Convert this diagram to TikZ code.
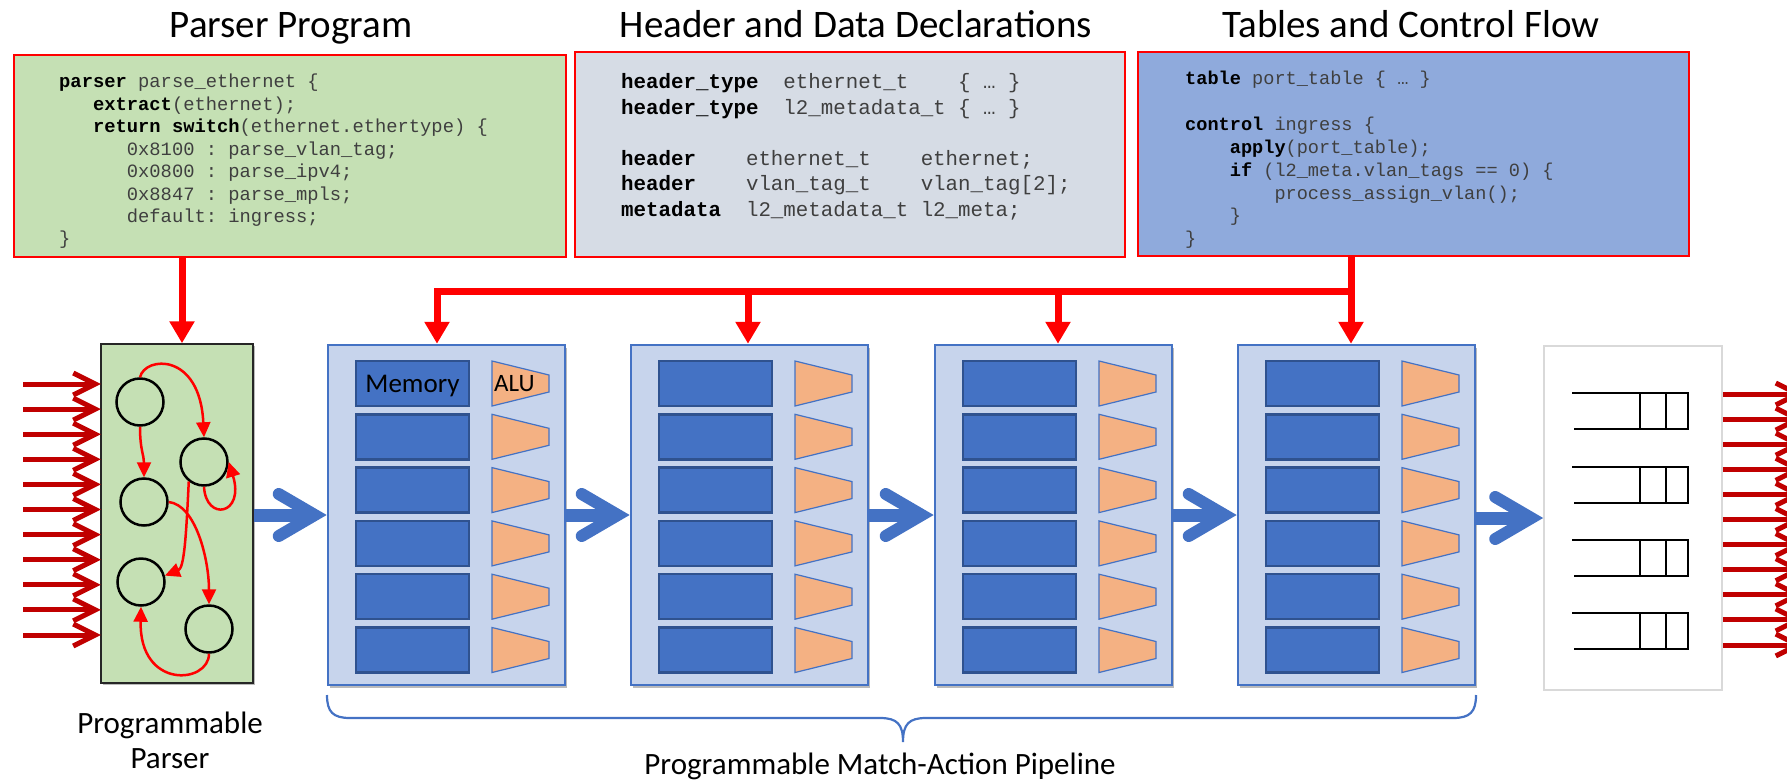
\documentclass[tikz,border=0pt]{standalone}
\usepackage{fontspec}
\setmainfont{Carlito}
\newfontfamily\monofont{Liberation Mono}
\usetikzlibrary{arrows.meta,calc,shadows}

\definecolor{codegreen}{HTML}{C5E0B4}
\definecolor{codegray}{HTML}{D6DCE5}
\definecolor{codeblue}{HTML}{8FAADC}
\definecolor{stagefill}{HTML}{C7D4EC}
\definecolor{accent}{HTML}{4472C4}
\definecolor{memedge}{HTML}{2F528F}
\definecolor{alufill}{HTML}{F4B183}
\definecolor{darkred}{HTML}{C00000}
\definecolor{brightred}{HTML}{FF0000}
\definecolor{txtgray}{HTML}{3F3F3F}
\definecolor{outedge}{HTML}{D9D9D9}

% code fonts for the three listings
\newcommand\cdP{\monofont\fontsize{18.8}{22}\selectfont\frenchspacing}
\newcommand\cdH{\monofont\fontsize{20.8}{25}\selectfont\frenchspacing}
\newcommand\cdT{\monofont\fontsize{18.6}{22}\selectfont\frenchspacing}
\newcommand\kw[1]{{\bfseries\color{black}#1}}

\tikzset{
  ttl/.style={font=\fontsize{39}{47}\selectfont, anchor=base, inner sep=0},
  lab/.style={font=\fontsize{31}{35}\selectfont, inner sep=0},
  codebox/.style={draw=brightred, line width=1.5pt, inner sep=0},
  code/.style={anchor=base west, inner sep=0, text=txtgray},
  pstate/.style={circle, draw=black, line width=2.5pt, minimum size=47pt, inner sep=0},
  sarrow/.style={draw=brightred, line width=2.5pt, -{Triangle[length=15pt,width=14pt]}},
  stage/.style={draw=accent, fill=stagefill, line width=2.5pt, minimum width=237pt, minimum height=340pt, inner sep=0,
    drop shadow={shadow xshift=1.5pt, shadow yshift=-2.5pt, fill=black!45, opacity=0.6}},
  mem/.style={draw=memedge, fill=accent, line width=2.5pt, minimum width=113pt, minimum height=45pt, inner sep=0},
  alu/.style={draw=accent, fill=alufill, line width=1.2pt},
  queue/.style={draw=black, line width=2.2pt},
  redio/.style={draw=darkred, line width=5pt},
  bshaft/.style={draw=accent, line width=13pt},
  bhead/.style={draw=accent, line width=12pt, line cap=round, line join=miter},
  bus/.style={draw=brightred, line width=7pt, line join=miter},
  busarrow/.style={bus, -{Triangle[length=22pt,width=24pt]}},
}

\begin{document}
\begin{tikzpicture}[x=1pt, y=-1pt]
\useasboundingbox (0,0) rectangle (1787,781);

% ---------- titles ----------
\node[ttl] (tp) at (291,38) {Parser Program};
\node[ttl] (th) at (856,38) {Header and Data Declarations};
\node[ttl] (tt) at (1411,38) {Tables and Control Flow};

% ---------- program boxes ----------
\node[codebox, fill=codegreen, minimum width=552pt, minimum height=202pt] (pcode) at (290,156) {};
\node[codebox, fill=codegray,  minimum width=550pt, minimum height=205pt] (hcode) at (850,154.5) {};
\node[codebox, fill=codeblue,  minimum width=551pt, minimum height=204pt] (tcode) at (1413.5,154) {};

% parser listing
\node[code, font=\cdP] (p1) at (59,88)    {\kw{parser} parse\_ethernet \{};
\node[code, font=\cdP] (p2) at (59,110.4) {~~~\kw{extract}(ethernet);};
\node[code, font=\cdP] (p3) at (59,132.8) {~~~\kw{return} \kw{switch}(ethernet.ethertype) \{};
\node[code, font=\cdP] (p4) at (59,155.2) {~~~~~~0x8100 : parse\_vlan\_tag;};
\node[code, font=\cdP] (p5) at (59,177.6) {~~~~~~0x0800 : parse\_ipv4;};
\node[code, font=\cdP] (p6) at (59,200)   {~~~~~~0x8847 : parse\_mpls;};
\node[code, font=\cdP] (p7) at (59,222.4) {~~~~~~default: ingress;};
\node[code, font=\cdP] (p8) at (59,244.8) {\}};

% header listing
\node[code, font=\cdH] (h1) at (621,88.5) {\kw{header\_type}~~ethernet\_t~~~~\{ … \}};
\node[code, font=\cdH] (h2) at (621,114)  {\kw{header\_type}~~l2\_metadata\_t \{ … \}};
\node[code, font=\cdH] (h3) at (621,165)  {\kw{header}~~~~ethernet\_t~~~~ethernet;};
\node[code, font=\cdH] (h4) at (621,190.5){\kw{header}~~~~vlan\_tag\_t~~~~vlan\_tag[2];};
\node[code, font=\cdH] (h5) at (621,216)  {\kw{metadata}~~l2\_metadata\_t l2\_meta;};

% tables and control listing
\node[code, font=\cdT] (t1) at (1185,85)    {\kw{table} port\_table \{ … \}};
\node[code, font=\cdT] (t2) at (1185,131)   {\kw{control} ingress \{};
\node[code, font=\cdT] (t3) at (1185,153.7) {~~~~\kw{apply}(port\_table);};
\node[code, font=\cdT] (t4) at (1185,176.4) {~~~~\kw{if} (l2\_meta.vlan\_tags == 0) \{};
\node[code, font=\cdT] (t5) at (1185,199)   {~~~~~~~~process\_assign\_vlan();};
\node[code, font=\cdT] (t6) at (1185,221.8) {~~~~\}};
\node[code, font=\cdT] (t7) at (1185,244.5) {\}};

% ---------- programmable parser ----------
\node[draw=black!85, fill=codegreen, line width=1.5pt, minimum width=152pt, minimum height=339pt, inner sep=0,
  drop shadow={shadow xshift=1.5pt, shadow yshift=-2pt, fill=black!45, opacity=0.6}] (parser) at (177,513.5) {};

\node[pstate] (c1) at (140,402) {};
\node[pstate] (c2) at (204,462) {};
\node[pstate] (c3) at (144,502) {};
\node[pstate] (c4) at (141,582) {};
\node[pstate] (c5) at (209,629) {};

\draw[sarrow] (c1.south) .. controls (140,450) and (144,455) .. (c3.north);
\draw[sarrow] (c1.north) .. controls (145,356) and (200,352) .. (c2.north);
\draw[sarrow] (c2.south) .. controls (206,522) and (245,515) .. (c2.east);
\draw[sarrow] (c2.232) .. controls (186,540) and (184,568) .. (c4.15);
\draw[sarrow] (c3.east) .. controls (196,505) and (209,560) .. (c5.north);
\draw[sarrow] (c5.south) .. controls (209,684) and (139,690) .. (c4.south);

% incoming packets
\foreach \k in {0,...,10} {
  \pgfmathsetmacro\yy{384+25.1*\k}
  \coordinate (ip) at (parser.west |- 0,\yy);
  \draw[redio] (23,\yy) -- ($(ip)+(-5,0)$);
  \draw[redio] ($(ip)+(-27,-11)$) -- ($(ip)+(-5,0)$) -- ($(ip)+(-27,11)$);
}

% ---------- match-action stages ----------
\foreach \i/\L in {1/328, 2/631, 3/935, 4/1238} {
  \node[stage] (s\i) at (\L+118.5,515) {};
  \foreach \r in {1,...,6} {
    \pgfmathsetmacro\T{361+(\r-1)*53.3}
    \node[mem] (m\i\r) at (\L+84.5,\T+22.5) {};
    \draw[alu] (\L+164,\T) -- (\L+221,\T+14) -- (\L+221,\T+31) -- (\L+164,\T+45) -- cycle;
  }
}
\node[font=\fontsize{27}{32}\selectfont, anchor=base, inner sep=0] (memtxt) at ($(m11.center)+(0,8.5)$) {Memory};
\node[font=\fontsize{25}{30}\selectfont, anchor=base west, inner sep=0] (alutxt) at (494,391) {ALU};

% ---------- output queues ----------
\node[draw=outedge, fill=white, line width=1.5pt, minimum width=178pt, minimum height=344pt, inner sep=0] (outbox) at (1633,518) {};
\foreach \q in {393,467,540,613} {
  \draw[queue] (1572,\q) -- (1688,\q) -- (1688,\q+36) -- (1574,\q+36);
  \draw[queue] (1640,\q) -- (1640,\q+36);
  \draw[queue] (1666,\q) -- (1666,\q+36);
}

% outgoing packets
\foreach \k in {0,...,10} {
  \pgfmathsetmacro\yy{394+25.1*\k}
  \coordinate (op) at (outbox.east |- 0,\yy);
  \draw[redio] (op) -- ($(op)+(75,0)$);
  \draw[redio] ($(op)+(53,-11)$) -- ($(op)+(75,0)$) -- ($(op)+(53,11)$);
}

% ---------- packet flow between blocks ----------
\foreach \a/\b in {parser/s1, s1/s2, s2/s3, s3/s4, s4/outbox} {
  \draw[bshaft] (\a.east |- \b.west) -- ($(\b.west)+(-12,0)$);
  \draw[bhead] ($(\b.west)+(-48,-21)$) -- ($(\b.west)+(-12,0)$) -- ($(\b.west)+(-48,21)$);
}

% ---------- program configuration ----------
\coordinate (pdrop) at (182,291);
\coordinate (d1) at (437,291);
\coordinate (d2) at (748,291);
\coordinate (d3) at (1058,291);
\coordinate (d4) at (1351,291);
\draw[busarrow] (pdrop |- pcode.south) -- (pdrop |- parser.north);
\draw[busarrow] (d4 |- tcode.south) -- (d4 |- s4.north);
\draw[busarrow] (d4) -- (d1) -- (d1 |- s1.north);
\draw[busarrow] (d2) -- (d2 |- s2.north);
\draw[busarrow] (d3) -- (d3 |- s3.north);

% ---------- labels ----------
\node[lab, align=center, anchor=north] (pplab) at (170,712) {Programmable\\Parser};
\draw[accent, line width=2.2pt] (327,695) .. controls (327,712) and (333,718) .. (350,718) -- (880,718)
  .. controls (897,718) and (903,724) .. (903,742)
  .. controls (903,724) and (909,718) .. (926,718) -- (1453,718)
  .. controls (1470,718) and (1476,712) .. (1476,695);
\node[lab, anchor=base] (malab) at (880,774) {Programmable Match-Action Pipeline};
\end{tikzpicture}
\end{document}
